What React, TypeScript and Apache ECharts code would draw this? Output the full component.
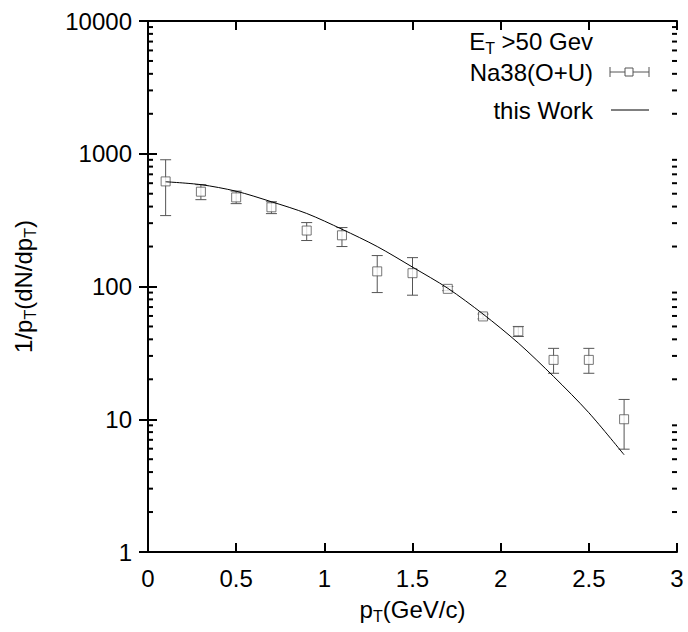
import React, { useEffect, useRef } from "react";
import * as echarts from "echarts";

const xTicks = [0, 0.5, 1, 1.5, 2, 2.5, 3];
const yTickLabels = ["1", "10", "100", "1000", "10000"];

const dataX = [0.1, 0.3, 0.5, 0.7, 0.9, 1.1, 1.3, 1.5, 1.7, 1.9, 2.1, 2.3, 2.5, 2.7];
const dataY = [619, 518, 469, 395, 264, 243, 130, 126, 96, 59.5, 46, 28, 28, 10];
const errLow = [342, 451, 421, 354, 222, 200, 90, 86, 93, 57, 42, 22.2, 22.2, 5.95];
const errHigh = [901, 585, 523, 435, 303, 278, 171, 165, 100, 62, 50, 34.2, 34.2, 14.1];

const curveX = [0.1, 0.3, 0.5, 0.7, 0.9, 1.1, 1.3, 1.5, 1.7, 1.9, 2.1, 2.3, 2.5, 2.7];
const curveY = [615, 585, 522, 435, 355, 270, 200, 140, 97, 62, 37.5, 21, 11.2, 5.4];

const FONT = "'Liberation Sans', Arial, Helvetica, sans-serif";
const FS = 24;

function minorValues(): number[] {
  const out: number[] = [];
  for (let d = 1; d < 10000; d *= 10) {
    for (let m = 2; m <= 9; m++) out.push(m * d);
  }
  return out;
}

const subRich = {
  a: { fontSize: FS, fontFamily: FONT, color: "#000", lineHeight: 26 },
  s: { fontSize: 16, fontFamily: FONT, color: "#000", lineHeight: 16, padding: [14, 0, 0, 0] },
};

export default function App() {
  const ref = useRef<HTMLDivElement>(null);
  useEffect(() => {
    if (!ref.current) return;
    const chart = echarts.init(ref.current, null, { renderer: "svg" });
    const minors = minorValues();
    const option: any = {
      animation: false,
      backgroundColor: "#fff",
      grid: { left: 146, right: 11, top: 21, bottom: 80, containLabel: false },
      xAxis: [
        {
          type: "value",
          min: 0,
          max: 3,
          interval: 0.5,
          position: "bottom",
          axisLine: { show: true, lineStyle: { color: "#000", width: 2 } },
          axisTick: { show: true, inside: true, length: 9, lineStyle: { color: "#000", width: 2 } },
          splitLine: { show: false },
          axisLabel: {
            color: "#000",
            fontSize: FS,
            fontFamily: FONT,
            margin: 14,
            formatter: (v: number) => {
              const i = xTicks.indexOf(v);
              return i >= 0 ? String(xTicks[i]) : "";
            },
          },
          name: "{a|p}{s|T}{a|(GeV/c)}",
          nameLocation: "middle",
          nameGap: 38,
          nameTextStyle: { rich: subRich },
        },
        {
          type: "value",
          min: 0,
          max: 3,
          interval: 0.5,
          position: "top",
          axisLine: { show: true, lineStyle: { color: "#000", width: 2 } },
          axisTick: { show: true, inside: true, length: 9, lineStyle: { color: "#000", width: 2 } },
          axisLabel: { show: false },
          splitLine: { show: false },
        },
      ],
      yAxis: [
        {
          type: "log",
          logBase: 10,
          min: 1,
          max: 10000,
          position: "left",
          axisLine: { show: true, lineStyle: { color: "#000", width: 2 } },
          axisTick: { show: true, inside: true, length: 9, lineStyle: { color: "#000", width: 2 } },
          splitLine: { show: false },
          minorTick: { show: false },
          axisLabel: {
            color: "#000",
            fontSize: FS,
            fontFamily: FONT,
            margin: 16,
            formatter: (v: number) => {
              const s = String(Math.round(v));
              return yTickLabels.indexOf(s) >= 0 ? s : "";
            },
          },
          name: "{a|1/p}{s|T}{a|(dN/dp}{s|T}{a|)}",
          nameLocation: "middle",
          nameGap: 112,
          nameTextStyle: { rich: subRich },
        },
        {
          type: "log",
          logBase: 10,
          min: 1,
          max: 10000,
          position: "right",
          axisLine: { show: true, lineStyle: { color: "#000", width: 2 } },
          axisTick: { show: true, inside: true, length: 9, lineStyle: { color: "#000", width: 2 } },
          splitLine: { show: false },
          axisLabel: { show: false },
        },
      ],
      series: [
        {
          type: "custom",
          name: "minorTicks",
          silent: true,
          xAxisIndex: 0,
          yAxisIndex: 0,
          clip: false,
          z: 5,
          data: minors.map((v) => [0, v]),
          renderItem: (params: any, api: any) => {
            const y = api.coord([0, api.value(1)])[1];
            const cs = params.coordSys;
            return {
              type: "group",
              children: [
                { type: "line", shape: { x1: cs.x, y1: y, x2: cs.x + 5, y2: y }, style: { stroke: "#000", lineWidth: 2 } },
                { type: "line", shape: { x1: cs.x + cs.width - 5, y1: y, x2: cs.x + cs.width, y2: y }, style: { stroke: "#000", lineWidth: 2 } },
              ],
            };
          },
        },
        {
          type: "custom",
          name: "errors",
          silent: true,
          xAxisIndex: 0,
          yAxisIndex: 0,
          z: 2,
          data: dataX.map((x, i) => [x, errLow[i], errHigh[i]]),
          renderItem: (params: any, api: any) => {
            const x = api.value(0);
            const lo = api.coord([x, api.value(1)]);
            const hi = api.coord([x, api.value(2)]);
            const st = { stroke: "#555", lineWidth: 1 };
            const w = 5.5;
            return {
              type: "group",
              children: [
                { type: "line", shape: { x1: lo[0], y1: lo[1], x2: hi[0], y2: hi[1] }, style: st },
                { type: "line", shape: { x1: lo[0] - w, y1: lo[1], x2: lo[0] + w, y2: lo[1] }, style: st },
                { type: "line", shape: { x1: hi[0] - w, y1: hi[1], x2: hi[0] + w, y2: hi[1] }, style: st },
              ],
            };
          },
        },
        {
          type: "scatter",
          name: "Na38(O+U)",
          xAxisIndex: 0,
          yAxisIndex: 0,
          z: 3,
          symbol: "rect",
          symbolSize: 9,
          itemStyle: { color: "#fff", borderColor: "#555", borderWidth: 1 },
          data: dataX.map((x, i) => [x, dataY[i]]),
        },
        {
          type: "line",
          name: "this Work",
          xAxisIndex: 0,
          yAxisIndex: 0,
          z: 4,
          smooth: 0.3,
          symbol: "none",
          lineStyle: { color: "#000", width: 1 },
          data: curveX.map((x, i) => [x, curveY[i]]),
        },
      ],
      graphic: [
        {
          type: "text",
          x: 593,
          y: 41,
          style: {
            text: "{a|E}{s|T}{a| >50 Gev}",
            rich: subRich,
            align: "right",
            verticalAlign: "middle",
          },
        },
        {
          type: "text",
          x: 593,
          y: 72,
          style: {
            text: "Na38(O+U)",
            fill: "#000",
            font: `${FS}px ${FONT}`,
            align: "right",
            verticalAlign: "middle",
          },
        },
        {
          type: "text",
          x: 593,
          y: 110,
          style: {
            text: "this Work",
            fill: "#000",
            font: `${FS}px ${FONT}`,
            align: "right",
            verticalAlign: "middle",
          },
        },
        { type: "line", shape: { x1: 610, y1: 72, x2: 649, y2: 72 }, style: { stroke: "#555", lineWidth: 1 } },
        { type: "line", shape: { x1: 610, y1: 67, x2: 610, y2: 77 }, style: { stroke: "#555", lineWidth: 1 } },
        { type: "line", shape: { x1: 649, y1: 67, x2: 649, y2: 77 }, style: { stroke: "#555", lineWidth: 1 } },
        { type: "rect", shape: { x: 625, y: 68, width: 8, height: 8 }, style: { fill: "#fff", stroke: "#555", lineWidth: 1 } },
        { type: "line", shape: { x1: 611, y1: 110, x2: 649, y2: 110 }, style: { stroke: "#000", lineWidth: 1 } },
      ],
    };
    chart.setOption(option);
    return () => chart.dispose();
  }, []);
  return (
    <div
      ref={ref}
      style={{ position: "absolute", left: 0, top: 0, width: 688, height: 632 }}
    />
  );
}
